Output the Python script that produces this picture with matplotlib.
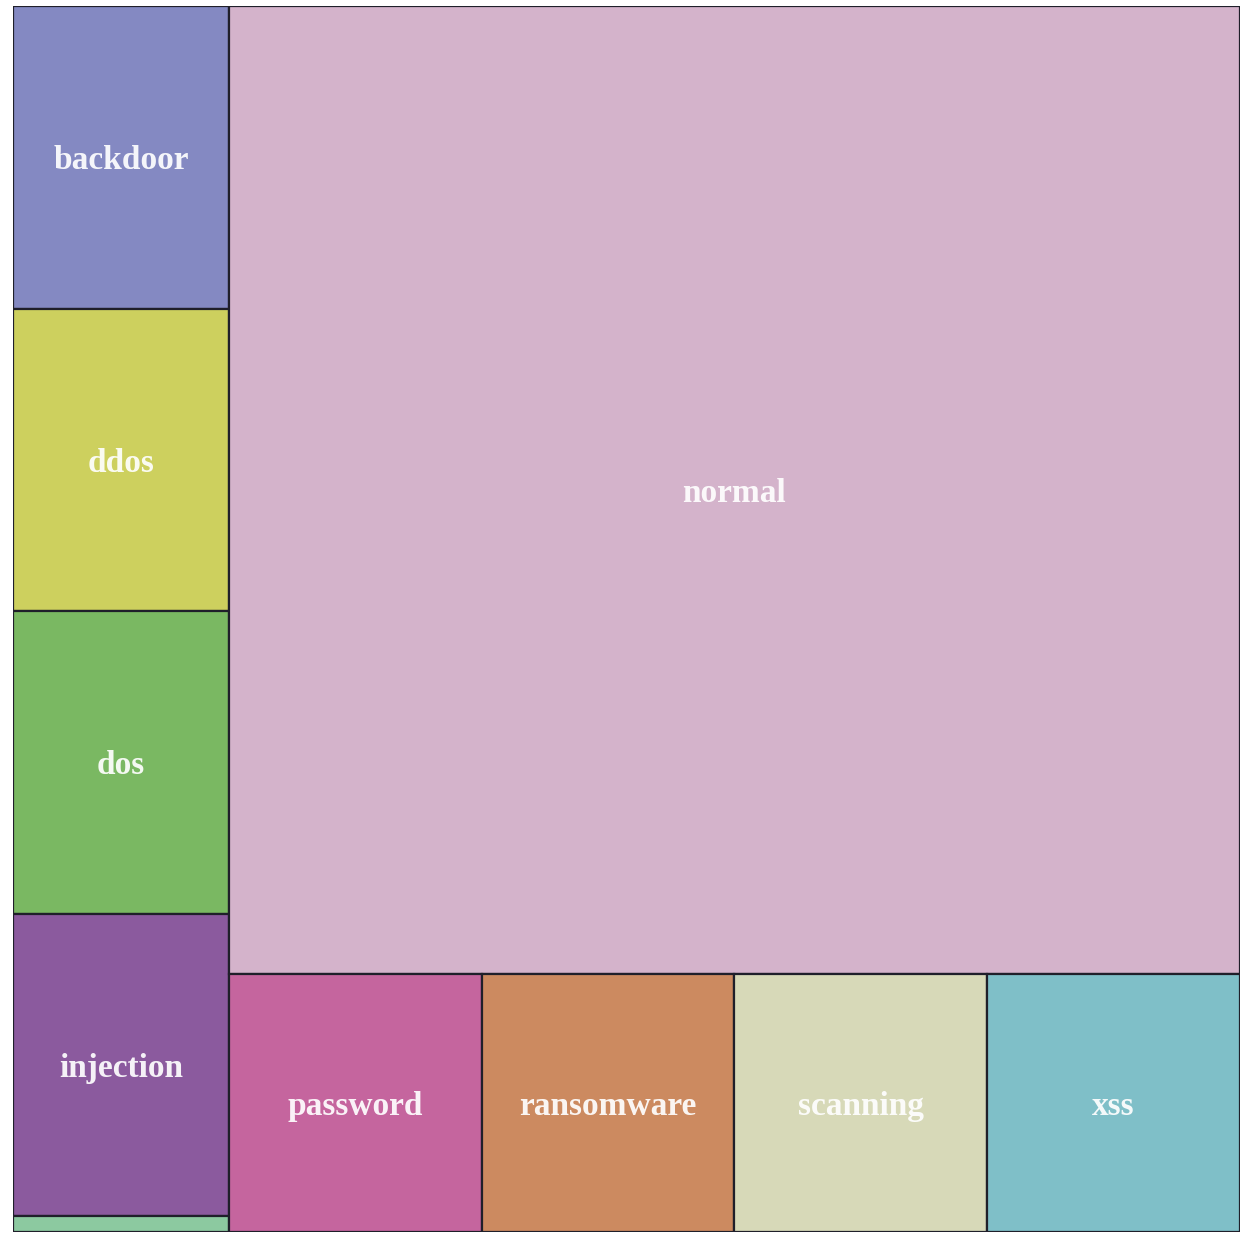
import matplotlib
matplotlib.use("Agg")
import matplotlib.pyplot as plt
from matplotlib.patches import Rectangle

# class counts (TON_IoT network set)
left_names = ["backdoor", "ddos", "dos", "injection", "mitm"]
left_counts = [20000, 20000, 20000, 20000, 1043]
top_name = "normal"
top_count = 300000
bottom_names = ["password", "ransomware", "scanning", "xss"]
bottom_counts = [20000, 20000, 20000, 20000]

colors = {
    "backdoor": "#8489c2",
    "ddos": "#cdd05e",
    "dos": "#7ab862",
    "injection": "#8b5a9e",
    "mitm": "#8cc9a0",
    "normal": "#d4b3cb",
    "password": "#c5659e",
    "ransomware": "#cc8a60",
    "scanning": "#d7d9b8",
    "xss": "#7fbfc8",
}
# labels are drawn only for tiles big enough
show_label = {"mitm": False}

W, H = 1.0, 1.0
total = sum(left_counts) + top_count + sum(bottom_counts)

fig = plt.figure(figsize=(12.5, 12.52), dpi=100)
ax = fig.add_axes([13 / 1250, 20 / 1252, 1227 / 1250, 1226 / 1252])
ax.set_xlim(0, W)
ax.set_ylim(H, 0)
ax.axis("off")


def tile(name, x, y, w, h):
    ax.add_patch(Rectangle((x, y), w, h, facecolor=colors[name],
                           edgecolor="#1f1f2a", linewidth=1.6))
    if show_label.get(name, True):
        ax.annotate(name, (x + w / 2, y + h / 2), xytext=(0, -2.5),
                    textcoords="offset points", ha="center", va="center",
                    color="white", fontsize=24, fontweight="bold",
                    family="Liberation Serif", alpha=0.92)


# left column, stacked top to bottom
col_w = W * sum(left_counts) / total
y = 0
for n, c in zip(left_names, left_counts):
    h = H * c / sum(left_counts)
    tile(n, 0, y, col_w, h)
    y += h

# right block: normal on top, the rest in a row below
right_w = W - col_w
right_total = top_count + sum(bottom_counts)
top_h = H * top_count / right_total
tile(top_name, col_w, 0, right_w, top_h)

x = col_w
for n, c in zip(bottom_names, bottom_counts):
    w = right_w * c / sum(bottom_counts)
    tile(n, x, top_h, w, H - top_h)
    x += w

fig.savefig("out.png", dpi=100)
